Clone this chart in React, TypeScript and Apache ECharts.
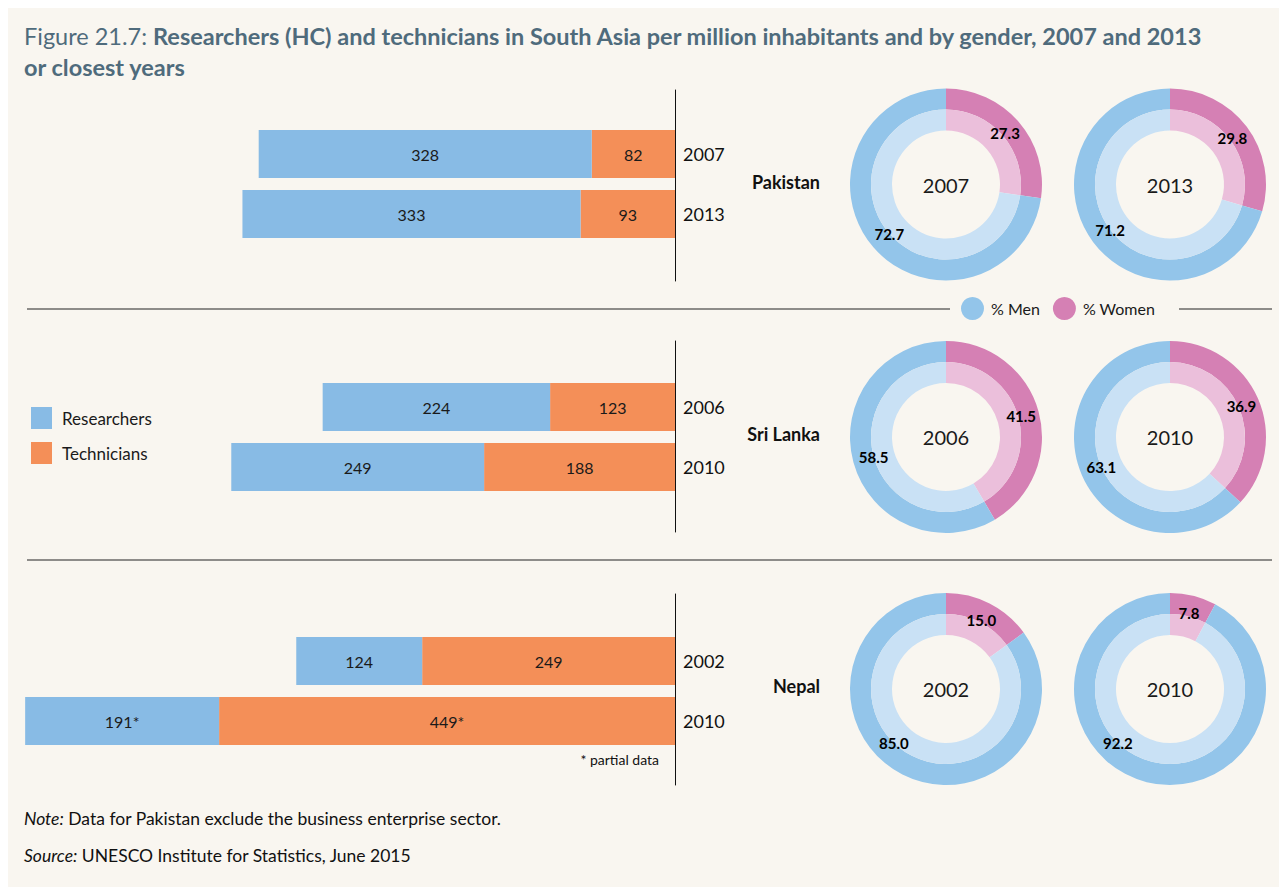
import React, { useEffect, useRef } from "react";
import * as echarts from "echarts";

const countries = ["Pakistan", "Sri Lanka", "Nepal"];
const years = [
  ["2007", "2013"],
  ["2006", "2010"],
  ["2002", "2010"],
];
const researchers = [
  [328, 333],
  [224, 249],
  [124, 191],
];
const technicians = [
  [82, 93],
  [123, 188],
  [249, 449],
];
const partialData = [
  [false, false],
  [false, false],
  [false, true],
];
const womenPct = [
  [27.3, 29.8],
  [41.5, 36.9],
  [15.0, 7.8],
];
const menPct = [
  [72.7, 71.2],
  [58.5, 63.1],
  [85.0, 92.2],
];

const FONT = "Lato, 'Open Sans', sans-serif";
const BG = "#f9f6f0";
const C_RES = "#88bbe5";
const C_TEC = "#f48f58";
const C_MEN = "#93c5ea";
const C_MEN_L = "#c9e1f5";
const C_WOM = "#d580b4";
const C_WOM_L = "#ebbfdb";

// layout (chart coordinates)
const AXIS_X = 667;
const BAR_LEFT = 7;
const X_MAX = 650;
const BAR_TOPS = [116, 369, 623];
const LINE_TOPS = [82, 333, 586];
const DONUT_X = [938, 1162];
const DONUT_Y = [176.5, 429, 681];
const LABEL_R = 75;
const MEN_LABEL_MIN_ANGLE = 224; // degrees clockwise from 12 o'clock

export default function App() {
  const ref = useRef<HTMLDivElement>(null);
  useEffect(() => {
    document.documentElement.style.overflow = "hidden";
    document.body.style.overflow = "hidden";
    const chart = echarts.init(ref.current!, null, { renderer: "svg" });

    const grid: any[] = [];
    const xAxis: any[] = [];
    const yAxis: any[] = [];
    const series: any[] = [];
    const graphic: any[] = [];

    countries.forEach((country, i) => {
      // bar grid
      grid.push({ left: BAR_LEFT, width: AXIS_X - BAR_LEFT, top: BAR_TOPS[i], height: 120 });
      xAxis.push({ type: "value", gridIndex: 2 * i, inverse: true, min: 0, max: X_MAX, show: false });
      yAxis.push({
        type: "category",
        gridIndex: 2 * i,
        inverse: true,
        position: "right",
        data: years[i],
        axisLine: { show: false },
        axisTick: { show: false },
        axisLabel: { fontSize: 18, color: "#111", fontFamily: FONT, margin: 8 },
      });
      // axis line grid
      grid.push({ left: BAR_LEFT, width: AXIS_X - BAR_LEFT, top: LINE_TOPS[i], height: 191 });
      xAxis.push({ type: "value", gridIndex: 2 * i + 1, show: false, min: 0, max: 1 });
      yAxis.push({
        type: "value",
        gridIndex: 2 * i + 1,
        position: "right",
        min: 0,
        max: 1,
        axisLine: { show: true, onZero: false, lineStyle: { color: "#111", width: 1 } },
        axisTick: { show: false },
        axisLabel: { show: false },
        splitLine: { show: false },
      });

      const labelBase = {
        show: true,
        position: "inside",
        fontSize: 16,
        color: "#1a1a1a",
        fontFamily: FONT,
      };
      series.push({
        type: "bar",
        name: "Technicians",
        xAxisIndex: 2 * i,
        yAxisIndex: 2 * i,
        stack: "s" + i,
        barWidth: 48,
        itemStyle: { color: C_TEC },
        label: {
          ...labelBase,
          formatter: (p: any) => p.value + (partialData[i][p.dataIndex] ? "*" : ""),
        },
        data: technicians[i],
      });
      series.push({
        type: "bar",
        name: "Researchers",
        xAxisIndex: 2 * i,
        yAxisIndex: 2 * i,
        stack: "s" + i,
        barWidth: 48,
        itemStyle: { color: C_RES },
        label: {
          ...labelBase,
          formatter: (p: any) => p.value + (partialData[i][p.dataIndex] ? "*" : ""),
        },
        data: researchers[i],
      });

      // donuts
      [0, 1].forEach((j) => {
        const center = [DONUT_X[j], DONUT_Y[i]];
        const d = [
          { name: "% Women", value: womenPct[i][j] },
          { name: "% Men", value: menPct[i][j] },
        ];
        const total = womenPct[i][j] + menPct[i][j];
        series.push({
          type: "pie",
          center,
          radius: [75, 96],
          silent: true,
          startAngle: 90,
          label: { show: false },
          labelLine: { show: false },
          data: d.map((x, k) => ({ ...x, itemStyle: { color: k === 0 ? C_WOM : C_MEN } })),
        });
        series.push({
          type: "pie",
          center,
          radius: [54, 75],
          silent: true,
          startAngle: 90,
          label: { show: false },
          labelLine: { show: false },
          data: d.map((x, k) => ({ ...x, itemStyle: { color: k === 0 ? C_WOM_L : C_MEN_L } })),
        });
        series.push({
          type: "pie",
          center,
          radius: [70, 80],
          silent: true,
          startAngle: 90,
          itemStyle: { color: "transparent" },
          label: {
            show: true,
            position: "inside",
            fontSize: 15,
            fontWeight: "bold",
            color: "#000",
            fontFamily: FONT,
            formatter: (p: any) => p.value.toFixed(1),
          },
          labelLayout: (p: any) => {
            if (p.dataIndex !== 1) return {};
            const w = womenPct[i][j] / total;
            const mid = (w + (1 - w) / 2) * 360;
            const ang = Math.max(mid, MEN_LABEL_MIN_ANGLE) * (Math.PI / 180);
            return {
              x: center[0] + LABEL_R * Math.sin(ang),
              y: center[1] - LABEL_R * Math.cos(ang),
              align: "center",
              verticalAlign: "middle",
            };
          },
          labelLine: { show: false },
          data: d.map((x) => ({ name: x.name === "% Men" ? "m" : "w", value: x.value })),
        });
        graphic.push({
          type: "text",
          x: center[0],
          y: center[1],
          silent: true,
          style: {
            text: years[i][j],
            fontSize: 20,
            fontFamily: FONT,
            fill: "#1a1a1a",
            textAlign: "center",
            textVerticalAlign: "middle",
          },
        });
      });

      graphic.push({
        type: "text",
        x: 812,
        y: DONUT_Y[i] - 3,
        silent: true,
        style: {
          text: country,
          fontSize: 18,
          fontWeight: "bold",
          fontFamily: FONT,
          fill: "#111",
          textAlign: "right",
          textVerticalAlign: "middle",
        },
      });
    });

    // separators
    graphic.push(
      { type: "line", silent: true, shape: { x1: 19, y1: 301, x2: 942, y2: 301 }, style: { stroke: "#222", lineWidth: 1 } },
      { type: "line", silent: true, shape: { x1: 1171, y1: 301, x2: 1264, y2: 301 }, style: { stroke: "#222", lineWidth: 1 } },
      { type: "line", silent: true, shape: { x1: 19, y1: 552, x2: 1264, y2: 552 }, style: { stroke: "#222", lineWidth: 1 } },
      {
        type: "text",
        x: 651,
        y: 751,
        silent: true,
        style: { text: "* partial data", fontSize: 14, fontFamily: FONT, fill: "#111", textAlign: "right", textVerticalAlign: "middle" },
      },
      {
        type: "text",
        x: 16,
        y: 810,
        silent: true,
        style: {
          text: "{i|Note:} Data for Pakistan exclude the business enterprise sector.",
          fontSize: 17.5,
          fontFamily: FONT,
          fill: "#111",
          textVerticalAlign: "middle",
          rich: { i: { fontStyle: "italic", fontSize: 17.5, fontFamily: FONT, fill: "#111" } },
        },
      },
      {
        type: "text",
        x: 16,
        y: 847,
        silent: true,
        style: {
          text: "{i|Source:} UNESCO Institute for Statistics, June 2015",
          fontSize: 17.5,
          fontFamily: FONT,
          fill: "#111",
          textVerticalAlign: "middle",
          rich: { i: { fontStyle: "italic", fontSize: 17.5, fontFamily: FONT, fill: "#111" } },
        },
      }
    );

    chart.setOption({
      animation: false,
      backgroundColor: BG,
      title: {
        left: 16,
        top: 12,
        padding: 0,
        text:
          "{a|Figure 21.7: }{b|Researchers (HC) and technicians in South Asia per million inhabitants and by gender, 2007 and 2013}\n{b|or closest years}",
        textStyle: {
          rich: {
            a: { fontSize: 23.5, fontFamily: FONT, fontWeight: "normal", color: "#4f6b7c", lineHeight: 31 },
            b: { fontSize: 23.5, fontFamily: FONT, fontWeight: "bold", color: "#4f6b7c", lineHeight: 31 },
          },
        },
      },
      legend: [
        {
          data: ["Researchers", "Technicians"],
          orient: "vertical",
          left: 18,
          top: 394,
          itemWidth: 21,
          itemHeight: 22,
          itemGap: 13,
          icon: "rect",
          selectedMode: false,
          textStyle: { fontSize: 17, fontFamily: FONT, color: "#1a1a1a", padding: [0, 0, 0, 5] },
        },
        {
          data: ["% Men", "% Women"],
          orient: "horizontal",
          left: 948,
          top: 284,
          itemWidth: 23,
          itemHeight: 23,
          itemGap: 13,
          icon: "circle",
          selectedMode: false,
          textStyle: { fontSize: 16, fontFamily: FONT, color: "#1a1a1a", padding: [0, 0, 0, 2] },
        },
      ],
      grid,
      xAxis,
      yAxis,
      series,
      graphic,
    });
    return () => chart.dispose();
  }, []);
  return <div ref={ref} style={{ width: 1279, height: 879 }} />;
}
